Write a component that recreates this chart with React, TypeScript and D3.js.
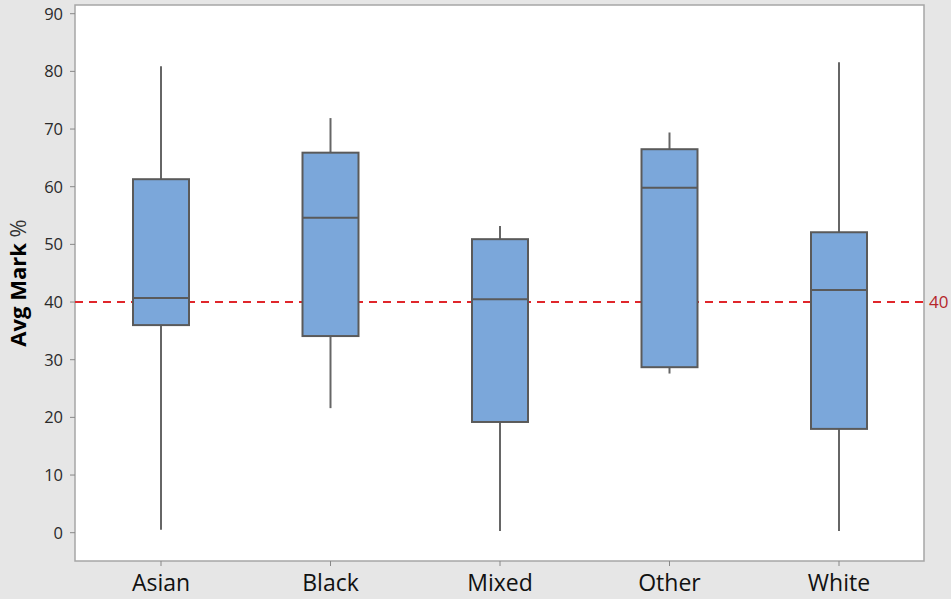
import React from "react";
import * as d3 from "d3";

const categories = ["Asian", "Black", "Mixed", "Other", "White"];
const minVals = [0.5, 21.6, 0.3, 27.6, 0.3];
const q1Vals = [36.0, 34.1, 19.2, 28.7, 18.0];
const medianVals = [40.7, 54.6, 40.5, 59.8, 42.1];
const q3Vals = [61.3, 65.9, 50.9, 66.5, 52.1];
const maxVals = [80.9, 71.9, 53.2, 69.4, 81.6];
const yTicks = [0, 10, 20, 30, 40, 50, 60, 70, 80, 90];
const refValue = 40;

const W = 951;
const H = 599;
const plot = { left: 75, right: 924, top: 5, bottom: 561 };
const FONT = "'Open Sans', 'Noto Sans', sans-serif";

export default function App() {
  const y = d3.scaleLinear().domain([0, 90]).range([532.7, 13.7]);
  const x = d3
    .scalePoint<string>()
    .domain(categories)
    .range([161, 839]);
  const boxW = 56;

  return (
    <svg
      width={W}
      height={H}
      style={{ position: "absolute", left: 0, top: 0, display: "block" }}
    >
      <rect x={0} y={0} width={W} height={H} fill="#e6e6e6" />
      <rect
        x={plot.left}
        y={plot.top}
        width={plot.right - plot.left}
        height={plot.bottom - plot.top}
        fill="#ffffff"
        stroke="#a6a6a6"
        strokeWidth={1.5}
      />
      {/* y ticks */}
      {yTicks.map((t) => (
        <g key={t}>
          <line
            x1={plot.left - 5}
            x2={plot.left}
            y1={y(t)}
            y2={y(t)}
            stroke="#888"
            strokeWidth={1}
          />
          <text
            x={63}
            y={y(t)}
            dy="0.36em"
            textAnchor="end"
            fontFamily={FONT}
            fontSize={16.5}
            fill="#2a2a2a"
          >
            {t}
          </text>
        </g>
      ))}
      {/* x ticks & labels */}
      {categories.map((c) => (
        <g key={c}>
          <line
            x1={x(c)!}
            x2={x(c)!}
            y1={plot.bottom}
            y2={plot.bottom + 5}
            stroke="#888"
          />
          <text
            x={x(c)!}
            y={591}
            textAnchor="middle"
            fontFamily={FONT}
            fontSize={23}
            fill="#111"
          >
            {c}
          </text>
        </g>
      ))}
      {/* y title */}
      <text
        transform={`translate(25.5,${283}) rotate(-90)`}
        textAnchor="middle"
        fontFamily={FONT}
        fontSize={22}
        fill="#000"
      >
        <tspan fontWeight="bold">Avg Mark</tspan>
        <tspan fill="#333"> %</tspan>
      </text>
      {/* reference line */}
      <line
        x1={plot.left}
        x2={plot.right}
        y1={y(refValue)}
        y2={y(refValue)}
        stroke="#e0262b"
        strokeWidth={2}
        strokeDasharray="8,6"
      />
      <text
        x={929}
        y={y(refValue)}
        dy="0.36em"
        fontFamily={FONT}
        fontSize={17}
        fill="#b5262b"
      >
        {refValue}
      </text>
      {/* boxes */}
      {categories.map((c, i) => {
        const cx = x(c)!;
        return (
          <g key={c}>
            <line
              x1={cx}
              x2={cx}
              y1={y(maxVals[i])}
              y2={y(q3Vals[i])}
              stroke="#666"
              strokeWidth={2}
            />
            <line
              x1={cx}
              x2={cx}
              y1={y(q1Vals[i])}
              y2={y(minVals[i])}
              stroke="#666"
              strokeWidth={2}
            />
            <rect
              x={cx - boxW / 2}
              y={y(q3Vals[i])}
              width={boxW}
              height={y(q1Vals[i]) - y(q3Vals[i])}
              fill="#7ba7da"
              stroke="#5a5a5a"
              strokeWidth={2}
            />
            <line
              x1={cx - boxW / 2}
              x2={cx + boxW / 2}
              y1={y(medianVals[i])}
              y2={y(medianVals[i])}
              stroke="#5a5a5a"
              strokeWidth={2}
            />
          </g>
        );
      })}
    </svg>
  );
}
